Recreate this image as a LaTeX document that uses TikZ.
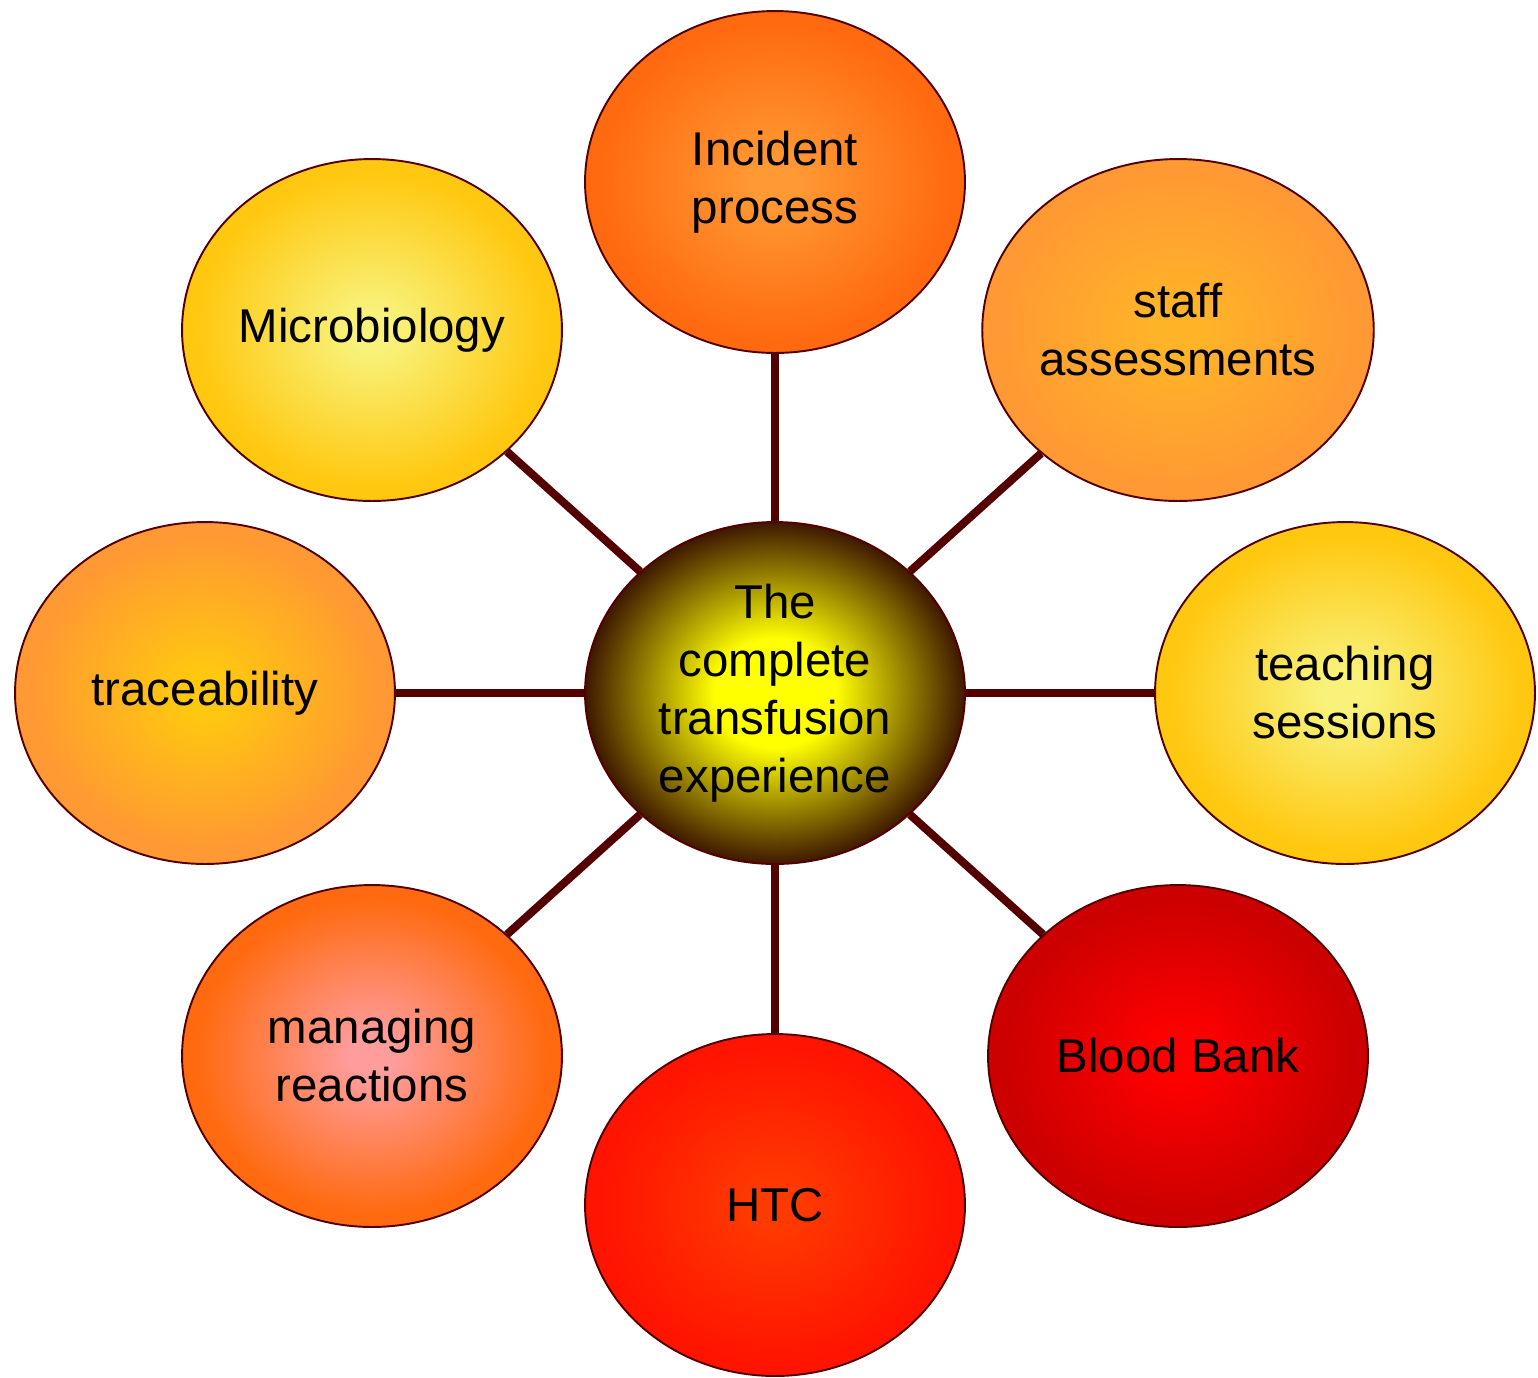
\documentclass[tikz,border=0pt]{standalone}
\usepackage{fontspec}
\setmainfont{Liberation Sans}
\usepackage{tikz}
\usetikzlibrary{shapes.geometric}
\definecolor{maroon}{HTML}{550000}
\definecolor{hubin}{HTML}{FFFF00}
\definecolor{hubout}{HTML}{3E1800}
\definecolor{lemon}{HTML}{F8F27A}
\definecolor{gold}{HTML}{FFC810}
\definecolor{amber}{HTML}{FFB428}
\definecolor{peach}{HTML}{FF9933}
\definecolor{tangerine}{HTML}{FF6A10}
\definecolor{pink}{HTML}{FF9C9C}
\definecolor{scarlet}{HTML}{FF3A00}
\definecolor{vermilion}{HTML}{FF1400}
\definecolor{crimson}{HTML}{CC0000}
\colorlet{bubin}{white}
\colorlet{bubout}{white}
\pgfdeclareradialshading[bubin,bubout]{bubble}{\pgfpoint{0bp}{0bp}}{color(0bp)=(bubin); color(3bp)=(bubin); color(23bp)=(bubout); color(50bp)=(bubout)}
\pgfdeclareradialshading[bubin,bubout]{core}{\pgfpoint{0bp}{0bp}}{color(0bp)=(bubin); color(8bp)=(bubin); color(25bp)=(bubout); color(50bp)=(bubout)}
\tikzset{tint/.style 2 args={/utils/exec={\colorlet{bubin}{#1}\colorlet{bubout}{#2}},shading=bubble}}
\tikzstyle{bubble}=[shape=ellipse,draw=maroon,line width=1.1pt,minimum width=7.6cm,minimum height=6.84cm,inner sep=0pt,align=center,font=\fontsize{27}{33}\selectfont]
\tikzstyle{spoke}=[-,draw=maroon,line width=4.6pt]

\begin{document}
\begin{tikzpicture}[x=0.02cm,y=-0.02cm]
		\useasboundingbox (0,0) rectangle (1538,1377);

		% centre
		\node[bubble,tint={hubin}{hubout},shading=core] (hub) at (775,693) {The\\complete\\transfusion\\experience};

		% outer ring
		\node[bubble,tint={peach}{tangerine}] (incident) at (775,182) {Incident\\process}
			edge [spoke] (hub);
		\node[bubble,tint={amber}{peach}] (staff) at (1178,330) {staff\\assessments}
			edge [spoke] (hub);
		\node[bubble,tint={lemon}{gold}] (teaching) at (1345,693) {teaching\\sessions}
			edge [spoke] (hub);
		\node[bubble,tint={red}{crimson}] (bank) at (1178,1056) {Blood Bank}
			edge [spoke] (hub);
		\node[bubble,tint={scarlet}{vermilion}] (htc) at (775,1205) {HTC}
			edge [spoke] (hub);
		\node[bubble,tint={pink}{tangerine}] (reactions) at (372,1056) {managing\\reactions}
			edge [spoke] (hub);
		\node[bubble,tint={gold}{peach}] (trace) at (205,693) {traceability}
			edge [spoke] (hub);
		\node[bubble,tint={lemon}{gold}] (micro) at (372,330) {Microbiology}
			edge [spoke] (hub);

		\end{tikzpicture}
\end{document}
